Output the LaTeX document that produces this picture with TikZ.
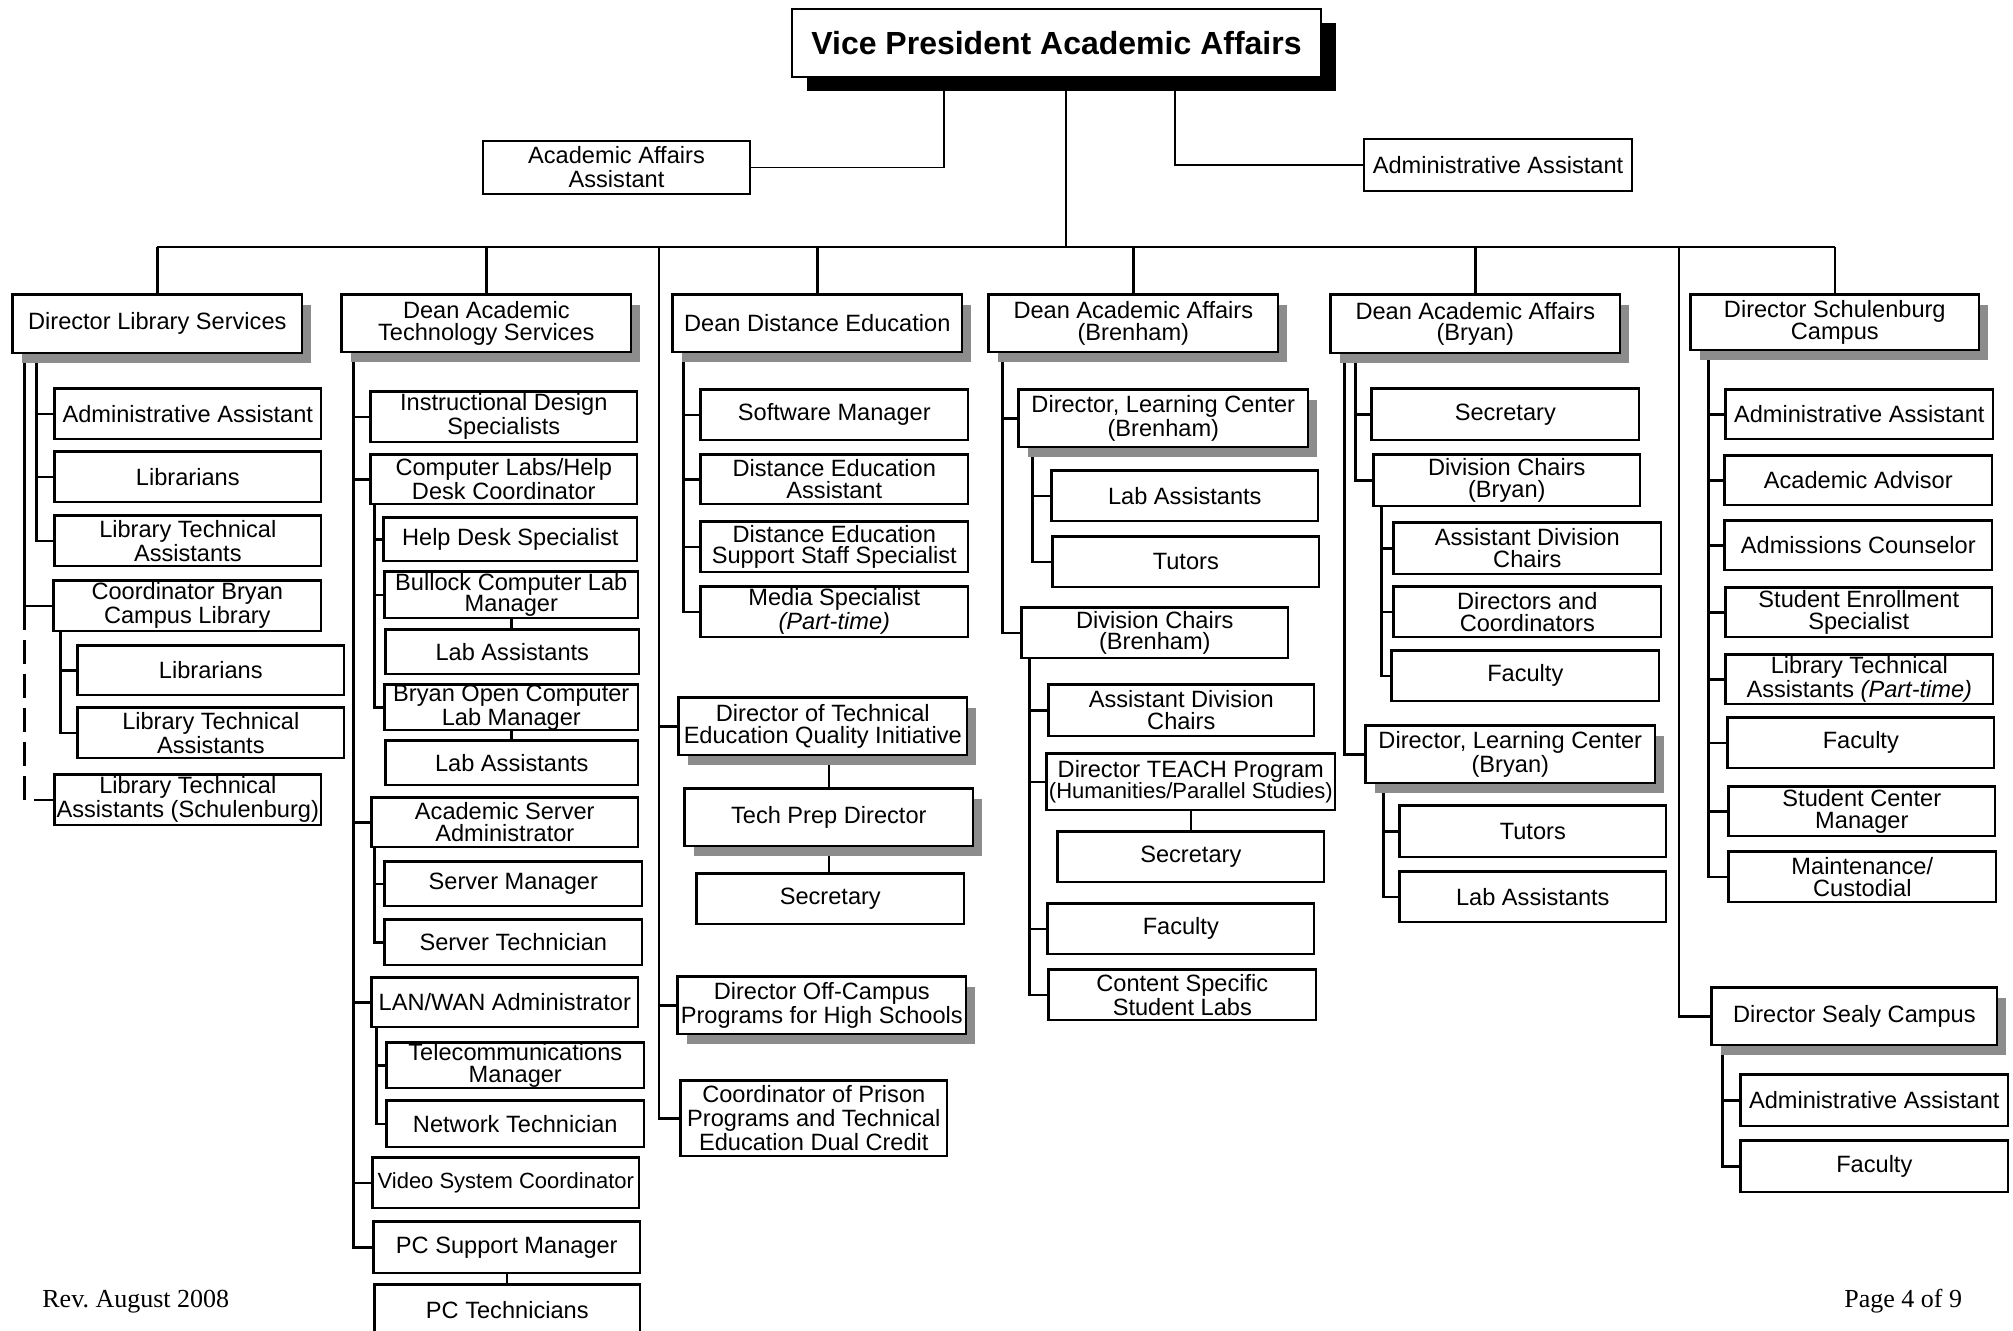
\documentclass[tikz,border=0pt]{standalone}
\usepackage{fontspec}
\setmainfont{Liberation Sans}
\newfontfamily\footfont{Liberation Serif}
\usetikzlibrary{shadows,backgrounds}

\begin{document}
\begin{tikzpicture}[
        x=0.5pt, y=-0.5pt,
        box/.style={rectangle, draw, fill=white, line width=1.3pt, inner sep=0pt, anchor=north west,
            xshift=0.65pt, yshift=-0.65pt, align=center, font=\fontsize{11.8}{10.8}\selectfont},
        wh/.style 2 args={minimum width=#1*0.5pt-1.3pt, minimum height=#2*0.5pt-1.3pt},
        headbox/.style={box, drop shadow={fill=black!45, opacity=1, shadow xshift=4.5pt, shadow yshift=-5pt}},
        topbox/.style={box, line width=1pt},
        conn/.style={line width=1.3pt},
        thinconn/.style={line width=0.9pt},
        foottext/.style={anchor=base west, inner sep=0pt, font=\footfont\fontsize{13}{15}\selectfont}
    ]
    \useasboundingbox (0,0) rectangle (2013,1330);

    % Vice President and assistants (TOP)
    \node[topbox, wh={531}{70}, font=\bfseries\fontsize{16}{18}\selectfont,
        drop shadow={fill=black, opacity=1, shadow xshift=7.5pt, shadow yshift=-7pt}] (vp) at (790,7) {Vice President Academic Affairs};
    \node[topbox, wh={269}{55}, font=\fontsize{11.8}{12}\selectfont] (aaa) at (481,139) {Academic Affairs\\Assistant};
    \node[topbox, wh={270}{54}] (adminva) at (1362,137) {Administrative Assistant};

    % Library Services column
    \node[headbox, wh={292}{61}] (dls) at (10,292) {Director Library Services};
    \node[box, wh={269}{53}] (libadmin) at (52,386) {Administrative Assistant};
    \node[box, wh={269}{53}] (librar) at (52,449) {Librarians};
    \node[box, wh={269}{53}] (libtech) at (52,513) {Library Technical\\Assistants};
    \node[box, wh={270}{53}] (libcoord) at (51,578) {Coordinator Bryan\\Campus Library};
    \node[box, wh={269}{52}] (bcllib) at (75,643) {Librarians};
    \node[box, wh={269}{53}] (bcltech) at (75,705) {Library Technical\\Assistants};
    \node[box, wh={269}{53}] (libschul) at (52,772) {Library Technical\\Assistants (Schulenburg)};

    % Academic Technology Services column
    \node[headbox, wh={292}{60}] (dats) at (339,292) {Dean Academic\\Technology Services};
    \node[box, wh={269}{53}] (ids) at (368,389) {Instructional Design\\Specialists};
    \node[box, wh={269}{52}] (clhd) at (368,452) {Computer Labs/Help\\Desk Coordinator};
    \node[box, wh={256}{46}] (hds) at (381,515) {Help Desk Specialist};
    \node[box, wh={256}{49}] (bullock) at (382,569) {Bullock Computer Lab\\Manager};
    \node[box, wh={256}{47}] (bulllab) at (383,627) {Lab Assistants};
    \node[box, wh={256}{48}] (bryanopen) at (382,682) {Bryan Open Computer\\Lab Manager};
    \node[box, wh={255}{47}] (bryanlab) at (383,738) {Lab Assistants};
    \node[box, wh={269}{52}] (asa) at (369,795) {Academic Server\\Administrator};
    \node[box, wh={260}{47}] (srvmgr) at (382,859) {Server Manager};
    \node[box, wh={260}{48}] (srvtech) at (382,917) {Server Technician};
    \node[box, wh={269}{52}] (lanwan) at (369,975) {LAN/WAN Administrator};
    \node[box, wh={260}{48}] (telecom) at (384,1040) {Telecommunications\\Manager};
    \node[box, wh={260}{49}] (nettech) at (384,1098) {Network Technician};
    \node[box, wh={269}{53}, font=\fontsize{11}{10.8}\selectfont] (video) at (370,1155) {Video System Coordinator};
    \node[box, wh={269}{54}] (pcsm) at (371,1219) {PC Support Manager};
    \node[box, wh={268}{53}] (pctech) at (372,1282) {PC Technicians};

    % Distance Education column
    \node[headbox, wh={292}{60}] (dde) at (670,292) {Dean Distance Education};
    \node[box, wh={270}{53}] (swmgr) at (698,387) {Software Manager};
    \node[box, wh={270}{52}] (deasst) at (698,452) {Distance Education\\Assistant};
    \node[box, wh={270}{53}] (desupp) at (698,519) {Distance Education\\Support Staff Specialist};
    \node[box, wh={270}{53}] (media) at (698,584) {Media Specialist\\\textit{(Part-time)}};
    \node[headbox, wh={291}{60}] (dteqi) at (676,695) {Director of Technical\\Education Quality Initiative};
    \node[headbox, wh={291}{60}] (techprep) at (682,786) {Tech Prep Director};
    \node[box, wh={270}{53}] (techsec) at (694,871) {Secretary};
    \node[headbox, wh={291}{60}] (offcampus) at (675,974) {Director Off-Campus\\Programs for High Schools};
    \node[box, wh={269}{78}, font=\fontsize{11.8}{12}\selectfont] (prison) at (678,1078) {Coordinator of Prison\\Programs and Technical\\Education Dual Credit};

    % Brenham column
    \node[headbox, wh={292}{60}] (daabren) at (986,292) {Dean Academic Affairs\\(Brenham)};
    \node[headbox, wh={292}{60}] (dlcbren) at (1016,387) {Director, Learning Center\\(Brenham)};
    \node[box, wh={269}{53}] (brenlab) at (1049,468) {Lab Assistants};
    \node[box, wh={269}{53}] (brentut) at (1050,534) {Tutors};
    \node[box, wh={269}{53}] (dcbren) at (1019,605) {Division Chairs\\(Brenham)};
    \node[box, wh={268}{54}] (adcbren) at (1046,682) {Assistant Division\\Chairs};
    \node[box, wh={291}{59}] (teach) at (1044,751) {Director TEACH Program\\{\fontsize{11}{10.8}\selectfont(Humanities/Parallel Studies)}};
    \node[box, wh={269}{53}] (teachsec) at (1055,829) {Secretary};
    \node[box, wh={269}{53}] (brenfac) at (1045,901) {Faculty};
    \node[box, wh={270}{53}] (brenlabs) at (1046,967) {Content Specific\\Student Labs};

    % Bryan column
    \node[headbox, wh={292}{61}] (daabry) at (1328,292) {Dean Academic Affairs\\(Bryan)};
    \node[box, wh={270}{54}] (brysec) at (1369,386) {Secretary};
    \node[box, wh={269}{54}] (dcbry) at (1371,452) {Division Chairs\\(Bryan)};
    \node[box, wh={270}{54}] (adcbry) at (1391,520) {Assistant Division\\Chairs};
    \node[box, wh={270}{53}] (dircoord) at (1391,584) {Directors and\\Coordinators};
    \node[box, wh={270}{53}] (bryfac) at (1389,648) {Faculty};
    \node[headbox, wh={292}{60}] (dlcbry) at (1363,723) {Director, Learning Center\\(Bryan)};
    \node[box, wh={269}{54}] (brytut) at (1397,803) {Tutors};
    \node[box, wh={269}{53}] (brylab) at (1397,869) {Lab Assistants};

    % Schulenburg and Sealy columns (RIGHT)
    \node[headbox, wh={291}{58}] (dsc) at (1688,292) {Director Schulenburg\\Campus};
    \node[box, wh={270}{52}] (schadmin) at (1723,387) {Administrative Assistant};
    \node[box, wh={270}{52}] (schadv) at (1722,453) {Academic Advisor};
    \node[box, wh={270}{52}] (schadm) at (1722,518) {Admissions Counselor};
    \node[box, wh={269}{52}] (schenr) at (1723,585) {Student Enrollment\\Specialist};
    \node[box, wh={270}{52}] (schlta) at (1723,652) {Library Technical\\Assistants \textit{(Part-time)}};
    \node[box, wh={269}{53}] (schfac) at (1725,715) {Faculty};
    \node[box, wh={269}{52}] (schscm) at (1726,784) {Student Center\\Manager};
    \node[box, wh={270}{53}] (schmaint) at (1726,849) {Maintenance/\\Custodial};
    \node[headbox, wh={288}{60}] (dsealy) at (1709,985) {Director Sealy Campus};
    \node[box, wh={270}{54}] (sealadmin) at (1738,1072) {Administrative Assistant};
    \node[box, wh={270}{54}] (sealfac) at (1738,1138) {Faculty};

    % Footer
    \node[foottext] (rev) at (42,1307) {Rev.\ August 2008};
    \node[foottext] (page) at (1844,1307) {Page 4 of 9};

    % Connectors - behind the boxes so shadows cover the line ends
    \begin{scope}[on background layer]
        \coordinate (bar) at (0,247);
        \coordinate (vpmid) at ([xshift=137.5pt]vp.south west);
        \draw[thinconn] ([xshift=76.5pt]vp.south west) |- (aaa.east);
        \draw[thinconn] ([xshift=192pt]vp.south west) |- (adminva.east -| adminva.west);
        \draw[thinconn] (vpmid) -- (vpmid |- bar);
        \draw[conn] (dls.north |- bar) -- (dsc.north |- bar);
        \foreach \n in {dls,dats,dde,daabren,daabry,dsc}
            \draw[conn] (\n.north |- bar) -- (\n.north);

        % library services
        \coordinate (libin) at ([xshift=12.5pt]dls.south west);
        \coordinate (libout) at ([xshift=6.5pt]dls.south west);
        \foreach \n in {libadmin,librar,libtech}
            \draw[conn] (libin) |- (\n.west);
        \draw[conn] (libout) |- (libcoord.west);
        \draw[conn, dash pattern=on 12pt off 5pt] (libout |- libcoord.west) |- (libschul.west);
        \coordinate (bclin) at ([xshift=4pt]libcoord.south west);
        \foreach \n in {bcllib,bcltech}
            \draw[conn] (bclin) |- (\n.west);

        % academic technology services
        \coordinate (datsin) at ([xshift=6.5pt]dats.south west);
        \foreach \n in {ids,clhd,asa,lanwan,video,pcsm}
            \draw[conn] (datsin) |- (\n.west);
        \coordinate (clhdin) at ([xshift=2.5pt]clhd.south west);
        \foreach \n in {hds,bullock,bryanopen}
            \draw[conn] (clhdin) |- (\n.west);
        \draw[conn] (bullock) -- (bullock |- bulllab);
        \draw[conn] (bryanopen) -- (bryanopen |- bryanlab);
        \coordinate (asain) at ([xshift=2pt]asa.south west);
        \foreach \n in {srvmgr,srvtech}
            \draw[conn] (asain) |- (\n.west);
        \coordinate (lanin) at ([xshift=3pt]lanwan.south west);
        \foreach \n in {telecom,nettech}
            \draw[conn] (lanin) |- (\n.west);
        \draw[conn] (pcsm) -- (pcsm |- pctech);

        % distance education and the long line from the bar
        \coordinate (ddein) at ([xshift=6pt]dde.south west);
        \foreach \n in {swmgr,deasst,desupp,media}
            \draw[conn] (ddein) |- (\n.west);
        \coordinate (edtop) at (659,247);
        \foreach \n in {dteqi,offcampus,prison}
            \draw[conn] (edtop) |- (\n.west);
        \draw[conn] (techprep) -- (techprep |- dteqi);
        \draw[conn] (techprep) -- (techprep |- techsec);

        % brenham
        \coordinate (brenin) at ([xshift=7.5pt]daabren.south west);
        \foreach \n in {dlcbren,dcbren}
            \draw[conn] (brenin) |- (\n.west);
        \coordinate (dlcbrenin) at ([xshift=7.5pt]dlcbren.south west);
        \foreach \n in {brenlab,brentut}
            \draw[conn] (dlcbrenin) |- (\n.west);
        \coordinate (dcbrenin) at ([xshift=4.5pt]dcbren.south west);
        \foreach \n in {adcbren,teach,brenfac,brenlabs}
            \draw[conn] (dcbrenin) |- (\n.west);
        \draw[conn] (teachsec) -- (teachsec |- teach);

        % bryan
        \coordinate (bryout) at ([xshift=7.5pt]daabry.south west);
        \coordinate (bryin) at ([xshift=13pt]daabry.south west);
        \foreach \n in {brysec,dcbry}
            \draw[conn] (bryin) |- (\n.west);
        \draw[conn] (bryout) |- (dlcbry.west);
        \coordinate (dcbryin) at ([xshift=4.5pt]dcbry.south west);
        \foreach \n in {adcbry,dircoord,bryfac}
            \draw[conn] (dcbryin) |- (\n.west);
        \coordinate (dlcbryin) at ([xshift=9.5pt]dlcbry.south west);
        \foreach \n in {brytut,brylab}
            \draw[conn] (dlcbryin) |- (\n.west);

        % schulenburg and sealy
        \coordinate (dscin) at ([xshift=9.5pt]dsc.south west);
        \foreach \n in {schadmin,schadv,schadm,schenr,schlta,schfac,schscm,schmaint}
            \draw[conn] (dscin) |- (\n.west);
        \coordinate (sealytop) at (1679,247);
        \draw[conn] (sealytop) |- (dsealy.west);
        \coordinate (sealyin) at ([xshift=6pt]dsealy.south west);
        \foreach \n in {sealadmin,sealfac}
            \draw[conn] (sealyin) |- (\n.west);
    \end{scope}

\end{tikzpicture}
\end{document}
